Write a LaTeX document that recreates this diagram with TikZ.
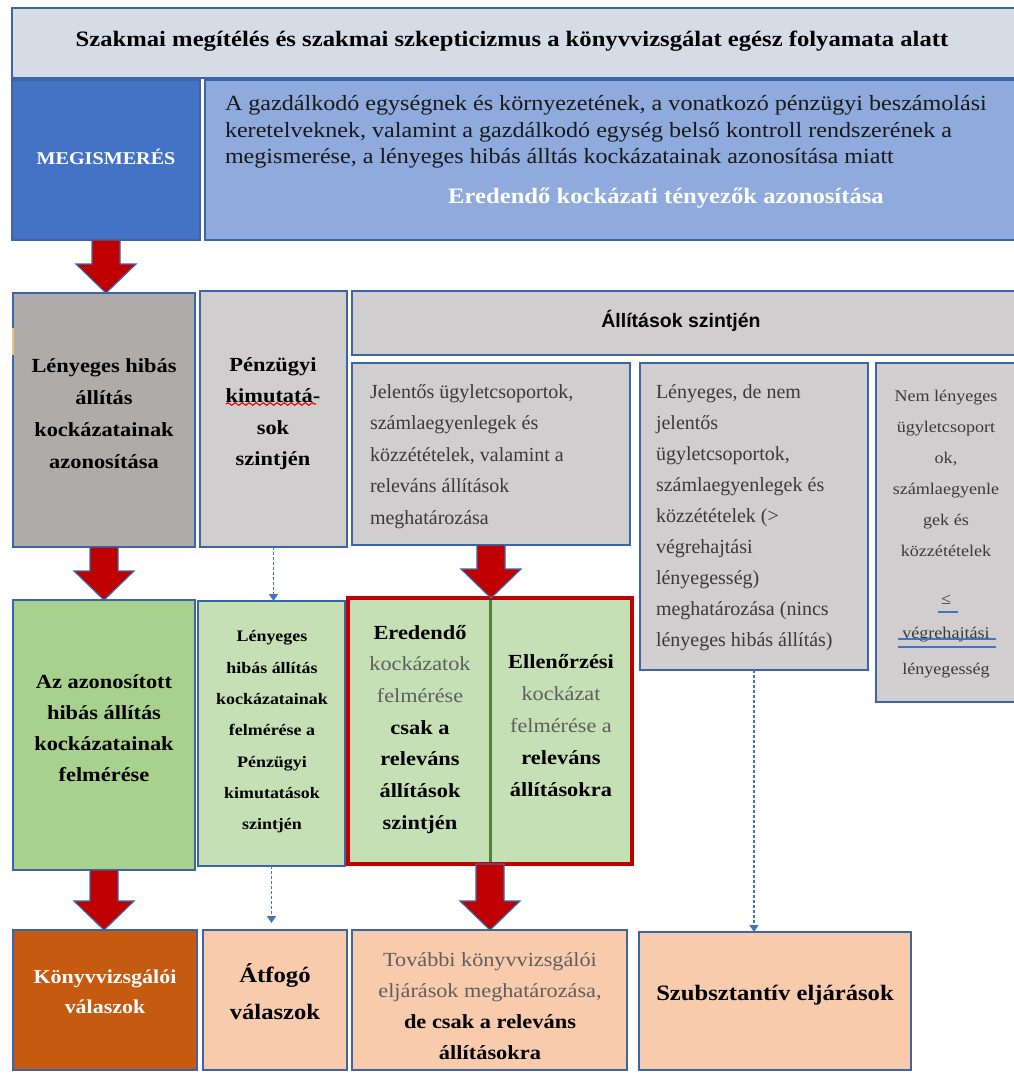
\documentclass[tikz,border=0pt]{standalone}
\usepackage{fontspec}
\setmainfont{Liberation Serif}[BoldFeatures={FakeStretch=1.12}]
\setsansfont{Liberation Sans}
\newfontfamily\widefont{Liberation Serif}[FakeStretch=1.11]
\usetikzlibrary{calc,arrows.meta,decorations.pathmorphing}

\definecolor{edgeblue}{HTML}{3E64A8}
\definecolor{hdrfill}{HTML}{D6DCE5}
\definecolor{megfill}{HTML}{4472C4}
\definecolor{megtextfill}{HTML}{8FAADC}
\definecolor{graydark}{HTML}{AEABAB}
\definecolor{graylight}{HTML}{D0CECE}
\definecolor{greendark}{HTML}{A9D18E}
\definecolor{greenlight}{HTML}{C5E0B4}
\definecolor{orangedark}{HTML}{C55A11}
\definecolor{peach}{HTML}{F8CBAD}
\definecolor{arrowred}{HTML}{C00000}
\definecolor{divgreen}{HTML}{548235}
\definecolor{bodytxt}{HTML}{3A3A3A}
\definecolor{softtxt}{HTML}{5E5E5E}
\definecolor{markblue}{HTML}{4472C4}
\definecolor{tabtan}{HTML}{F4C27F}

\newcommand\fs[2]{\fontsize{#1}{#2}\selectfont}
\newcommand\soft[1]{\textcolor{softtxt}{\widefont #1}}

% block arrow between two points on the same vertical line
\newcommand\blockarrow[2]{%
  \draw[blockarr] let \p1=(#1), \p2=(#2) in
    (\x1-14pt,\y1) -- (\x1+14pt,\y1) -- (\x1+14pt,\y2+29pt) -- (\x1+30pt,\y2+29pt)
    -- (\x1,\y2) -- (\x1-30pt,\y2+29pt) -- (\x1-14pt,\y2+29pt) -- cycle;}

\begin{document}
\begin{tikzpicture}[x=1pt,y=-1pt,
  panel/.style={draw=edgeblue, line width=2pt, inner sep=0pt, outer sep=0pt, anchor=north west},
  txt/.style={inner sep=0pt, outer sep=0pt, align=center, anchor=north},
  ltxt/.style={inner sep=0pt, outer sep=0pt, align=left, anchor=north west},
  blockarr/.style={fill=arrowred, draw=edgeblue, line width=1.2pt, line join=miter},
  dotarrow/.style={draw=markblue, line width=1.6pt, dash pattern=on 3pt off 2pt,
    -{Triangle[width=9pt,length=7pt]}}]

\useasboundingbox[fill=white] (0,0) rectangle (1013,1074);

% ---------- top band ----------
\node[panel, fill=hdrfill, minimum width=1008pt, minimum height=70pt] (hdr) at (12,8) {};
\node[inner sep=0pt, font=\bfseries\fs{22}{26}] (hdrtxt) at (512,41)
  {Szakmai megítélés és szakmai szkepticizmus a könyvvizsgálat egész folyamata alatt};

\node[panel, fill=megfill, minimum width=188pt, minimum height=160pt] (megis) at (12,80) {};
\node[inner sep=0pt, text=white, font=\bfseries\fs{18}{22}] (megislbl) at (106,157) {MEGISMERÉS};

\node[panel, fill=megtextfill, minimum width=815pt, minimum height=160pt] (megtext) at (205,80) {};
\node[ltxt, text=black!90, font=\widefont\fs{21.7}{26.5}] (megbody) at (225,92)
  {\strut A gazdálkodó egységnek és környezetének, a vonatkozó pénzügyi beszámolási\\
   keretelveknek, valamint a gazdálkodó egység belső kontroll rendszerének a\\
   megismerése, a lényeges hibás álltás kockázatainak azonosítása miatt};
\node[inner sep=0pt, text=white, font=\bfseries\fs{22}{26}] (megsub) at (666,198)
  {Eredendő kockázati tényezők azonosítása};

% ---------- identification row ----------
\node[panel, fill=graydark, minimum width=182pt, minimum height=254pt] (A) at (13,293) {};
\draw[tabtan, line width=2pt] (13,328) -- (13,355);
\node[txt, font=\bfseries\fs{20}{32}] (Atxt) at (104,349.6)
  {\strut Lényeges hibás\\ állítás\\ kockázatainak\\ azonosítása};

\node[panel, fill=graylight, minimum width=147pt, minimum height=256pt] (B) at (200,291) {};
\node[txt, font=\bfseries\fs{20}{31.5}] (Btxt) at (273,349)
  {\strut Pénzügyi\\ kimutatá-\\ sok\\ szintjén};
\draw[red!90!black, line width=1.1pt, decorate,
  decoration={snake, amplitude=1.3pt, segment length=7pt}] (226,404) -- (316,404);

\node[panel, fill=graylight, minimum width=668pt, minimum height=64pt] (C) at (352,291) {};
\node[inner sep=0pt, font=\sffamily\bfseries\fs{19.5}{22}] (Ctxt) at (681,321) {Állítások szintjén};

\node[panel, fill=graylight, minimum width=278pt, minimum height=182pt] (D) at (352,363) {};
\node[ltxt, text=bodytxt, font=\fs{20}{31.5}] (Dtxt) at (370,376)
  {\strut Jelentős ügyletcsoportok,\\ számlaegyenlegek és\\ közzétételek, valamint a\\
   releváns állítások\\ meghatározása};

\node[panel, fill=graylight, minimum width=228pt, minimum height=307pt] (E) at (640,363) {};
\node[ltxt, text=bodytxt, font=\fs{20}{30.9}] (Etxt) at (656,377.3)
  {\strut Lényeges, de nem\\ jelentős\\ ügyletcsoportok,\\ számlaegyenlegek és\\
   közzétételek (>\\ végrehajtási\\ lényegesség)\\ meghatározása (nincs\\
   lényeges hibás állítás)};

\node[panel, fill=graylight, minimum width=144pt, minimum height=339pt] (F) at (876,363) {};
\node[txt, text=bodytxt, font=\widefont\fs{16.3}{31}] (Ftxt) at (946,380)
  {\strut Nem lényeges\\ ügyletcsoport\\ ok,\\ számlaegyenle\\ gek és\\ közzétételek\\[17pt]
   ≤\\[3pt] végrehajtási\\[5pt] lényegesség};
\draw[markblue, line width=1.5pt] (938,612) -- (958,612);
\draw[markblue, line width=1.5pt] (898,639) -- (996,639);
\draw[markblue, line width=1.5pt] (898,647) -- (996,647);

% ---------- assessment row ----------
\node[panel, fill=greendark, minimum width=182pt, minimum height=270pt] (G) at (13,600) {};
\node[txt, font=\bfseries\fs{20}{31}] (Gtxt) at (104,666.3)
  {\strut Az azonosított\\ hibás állítás\\ kockázatainak\\ felmérése};

\node[panel, fill=greenlight, minimum width=147pt, minimum height=265pt] (H) at (198,601) {};
\node[txt, font=\bfseries\fs{16}{31.3}] (Htxt) at (272,620)
  {\strut Lényeges\\ hibás állítás\\ kockázatainak\\ felmérése a\\ Pénzügyi\\ kimutatások\\ szintjén};

\node[panel, draw=arrowred, line width=4pt, fill=greenlight, minimum width=284pt, minimum height=266pt] (I) at (348,598) {};
\draw[divgreen, line width=3pt] ([yshift=-2pt]I.north) -- ([yshift=2pt]I.south);
\node[txt, font=\fs{20}{31.7}] (Iltxt) at (420,616.8)
  {\strut\textbf{Eredendő}\\ \soft{kockázatok}\\ \soft{felmérése}\\
   \textbf{csak a}\\ \textbf{releváns}\\ \textbf{állítások}\\ \textbf{szintjén}};
\node[txt, font=\fs{20}{32}] (Irtxt) at (561,645.6)
  {\strut\textbf{Ellenőrzési}\\ \soft{kockázat}\\ \soft{felmérése a}\\
   \textbf{releváns}\\ \textbf{állításokra}};

% ---------- response row ----------
\node[panel, fill=orangedark, minimum width=184pt, minimum height=140pt] (J) at (13,930) {};
\node[txt, text=white, font=\bfseries\fs{19.6}{30}] (Jtxt) at (105,962.7)
  {\strut Könyvvizsgálói\\ válaszok};

\node[panel, fill=peach, minimum width=144pt, minimum height=140pt] (K) at (203,930) {};
\node[txt, font=\bfseries\fs{22}{37}] (Ktxt) at (275,957)
  {\strut Átfogó\\ válaszok};

\node[panel, fill=peach, minimum width=275pt, minimum height=140pt] (L) at (352,930) {};
\node[txt, font=\fs{20}{31}] (Ltxt) at (490,944.3)
  {\strut\soft{További könyvvizsgálói}\\ \soft{eljárások meghatározása,}\\
   \textbf{de csak a releváns}\\ \textbf{állításokra}};

\node[panel, fill=peach, minimum width=272pt, minimum height=138pt] (M) at (639,932) {};
\node[inner sep=0pt, font=\bfseries\fs{22}{28}] (Mtxt) at (775,995) {Szubsztantív eljárások};

% ---------- connectors ----------
\blockarrow{megis.south}{megis.south |- A.north}
\blockarrow{A.south}{A.south |- G.north}
\blockarrow{D.south}{D.south |- I.north}
\blockarrow{G.south}{G.south |- J.north}
\blockarrow{I.south}{I.south |- L.north}

\draw[dotarrow] (B.south) -- (B.south |- H.north);
\draw[dotarrow, shorten >=7pt] (H.south) -- (H.south |- K.north);
\draw[dotarrow] (E.south) -- (E.south |- M.north);

\end{tikzpicture}
\end{document}
